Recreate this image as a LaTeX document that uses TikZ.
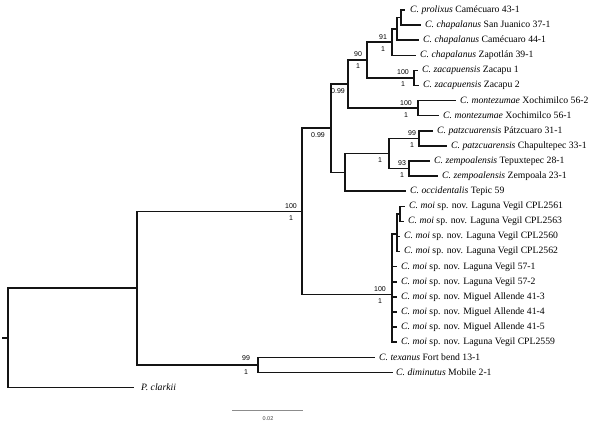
\documentclass[tikz,border=0pt]{standalone}
\usepackage{fontspec}
\setmainfont{Liberation Serif}
\newfontfamily\bsfont{Liberation Sans}
\begin{document}
\begin{tikzpicture}[x=1pt,y=-1pt,
  br/.style={line width=1.5pt, draw=black!92, line cap=rect},
  leaf/.style={anchor=west, inner sep=0pt, font=\fontsize{9.7}{11}\selectfont},
  bs/.style={inner sep=0pt, font=\bsfont\fontsize{7}{8}\selectfont},
  bar/.style={line width=1pt, draw=black!45}]
\useasboundingbox (0,0) rectangle (600,425);
% internal nodes
\coordinate (root0) at (3,337.8);
\coordinate (root) at (8,337.8);
\coordinate (j) at (137,288.1);
\coordinate (k) at (258,364.85);
\coordinate (i) at (302,211.3);
\coordinate (h) at (331,128.2);
\coordinate (e) at (348,84.1);
\coordinate (d) at (367,60.0);
\coordinate (c) at (392,42.1);
\coordinate (b) at (397,28.9);
\coordinate (a) at (401,17.55);
\coordinate (z) at (414,77.95);
\coordinate (m) at (418,108.15);
\coordinate (g) at (345,172.3);
\coordinate (f) at (389,153.45);
\coordinate (p) at (419,138.35);
\coordinate (q) at (409,168.55);
\coordinate (u) at (392,294.4);
\coordinate (t) at (397,234.0);
\coordinate (s) at (400,213.85);
% leaf ends
\coordinate (L1) at (404,10.0);
\coordinate (L2) at (420,25.1);
\coordinate (L3) at (418,40.2);
\coordinate (L4) at (415,55.3);
\coordinate (L5) at (417,70.4);
\coordinate (L6) at (418,85.5);
\coordinate (L7) at (455,100.6);
\coordinate (L8) at (438,115.7);
\coordinate (L9) at (432,130.8);
\coordinate (L10) at (446,145.9);
\coordinate (L11) at (429,161.0);
\coordinate (L12) at (437,176.1);
\coordinate (L13) at (405,191.2);
\coordinate (L14) at (404,206.3);
\coordinate (L15) at (403,221.4);
\coordinate (L16) at (399,236.5);
\coordinate (L17) at (399,251.6);
\coordinate (L18) at (396,266.7);
\coordinate (L19) at (396,281.8);
\coordinate (L20) at (396,296.9);
\coordinate (L21) at (396,312.0);
\coordinate (L22) at (396,327.1);
\coordinate (L23) at (396,342.2);
\coordinate (L24) at (374,357.3);
\coordinate (L25) at (392,372.4);
\coordinate (L26) at (133,387.5);
% branches
\draw[br] (root0) -- (root);
\draw[br] (root) |- (j);
\draw[br] (root) |- (L26);
\draw[br] (j) |- (i);
\draw[br] (j) |- (k);
\draw[br] (k) |- (L24);
\draw[br] (k) |- (L25);
\draw[br] (i) |- (h);
\draw[br] (i) |- (u);
\draw[br] (h) |- (e);
\draw[br] (h) |- (g);
\draw[br] (e) |- (d);
\draw[br] (e) |- (m);
\draw[br] (d) |- (c);
\draw[br] (d) |- (z);
\draw[br] (c) |- (b);
\draw[br] (c) |- (L4);
\draw[br] (b) |- (a);
\draw[br] (b) |- (L3);
\draw[br] (a) |- (L1);
\draw[br] (a) |- (L2);
\draw[br] (z) |- (L5);
\draw[br] (z) |- (L6);
\draw[br] (m) |- (L7);
\draw[br] (m) |- (L8);
\draw[br] (g) |- (f);
\draw[br] (g) |- (L13);
\draw[br] (f) |- (p);
\draw[br] (f) |- (q);
\draw[br] (p) |- (L9);
\draw[br] (p) |- (L10);
\draw[br] (q) |- (L11);
\draw[br] (q) |- (L12);
\draw[br] (u) |- (t);
\draw[br] (u) |- (L18);
\draw[br] (u) |- (L19);
\draw[br] (u) |- (L20);
\draw[br] (u) |- (L21);
\draw[br] (u) |- (L22);
\draw[br] (u) |- (L23);
\draw[br] (t) |- (s);
\draw[br] (t) |- (L16);
\draw[br] (t) |- (L17);
\draw[br] (s) |- (L14);
\draw[br] (s) |- (L15);
% leaf labels
\node[leaf, xshift=6pt] (n1) at (L1) {\textit{C. prolixus} Camécuaro 43-1};
\node[leaf, xshift=5pt] (n2) at (L2) {\textit{C. chapalanus} San Juanico 37-1};
\node[leaf, xshift=5pt] (n3) at (L3) {\textit{C. chapalanus} Camécuaro 44-1};
\node[leaf, xshift=5pt] (n4) at (L4) {\textit{C. chapalanus} Zapotlán 39-1};
\node[leaf, xshift=5pt] (n5) at (L5) {\textit{C. zacapuensis} Zacapu 1};
\node[leaf, xshift=5pt] (n6) at (L6) {\textit{C. zacapuensis} Zacapu 2};
\node[leaf, xshift=5pt] (n7) at (L7) {\textit{C. montezumae} Xochimilco 56-2};
\node[leaf, xshift=5pt] (n8) at (L8) {\textit{C. montezumae} Xochimilco 56-1};
\node[leaf, xshift=5pt] (n9) at (L9) {\textit{C. patzcuarensis} Pátzcuaro 31-1};
\node[leaf, xshift=5pt] (n10) at (L10) {\textit{C. patzcuarensis} Chapultepec 33-1};
\node[leaf, xshift=5pt] (n11) at (L11) {\textit{C. zempoalensis} Tepuxtepec 28-1};
\node[leaf, xshift=5pt] (n12) at (L12) {\textit{C. zempoalensis} Zempoala 23-1};
\node[leaf, xshift=5pt] (n13) at (L13) {\textit{C. occidentalis} Tepic 59};
\node[leaf, xshift=5pt] (n14) at (L14) {\textit{C. moi} sp. nov. Laguna Vegil CPL2561};
\node[leaf, xshift=5pt] (n15) at (L15) {\textit{C. moi} sp. nov. Laguna Vegil CPL2563};
\node[leaf, xshift=5pt] (n16) at (L16) {\textit{C. moi} sp. nov. Laguna Vegil CPL2560};
\node[leaf, xshift=5pt] (n17) at (L17) {\textit{C. moi} sp. nov. Laguna Vegil CPL2562};
\node[leaf, xshift=5pt] (n18) at (L18) {\textit{C. moi} sp. nov. Laguna Vegil 57-1};
\node[leaf, xshift=5pt] (n19) at (L19) {\textit{C. moi} sp. nov. Laguna Vegil 57-2};
\node[leaf, xshift=5pt] (n20) at (L20) {\textit{C. moi} sp. nov. Miguel Allende 41-3};
\node[leaf, xshift=5pt] (n21) at (L21) {\textit{C. moi} sp. nov. Miguel Allende 41-4};
\node[leaf, xshift=5pt] (n22) at (L22) {\textit{C. moi} sp. nov. Miguel Allende 41-5};
\node[leaf, xshift=5pt] (n23) at (L23) {\textit{C. moi} sp. nov. Laguna Vegil CPL2559};
\node[leaf, xshift=5pt] (n24) at (L24) {\textit{C. texanus} Fort bend 13-1};
\node[leaf, xshift=4pt] (n25) at (L25) {\textit{C. diminutus} Mobile 2-1};
\node[leaf, xshift=8pt] (n26) at (L26) {\textit{P. clarkii}};
% support values
\node[bs, xshift=-9pt, yshift=5.5pt] (sc1) at (c) {91};
\node[bs, xshift=-9pt, yshift=-6.5pt] (sc2) at (c) {1};
\node[bs, xshift=-9pt, yshift=5.5pt] (sd1) at (d) {90};
\node[bs, xshift=-9pt, yshift=-6.5pt] (sd2) at (d) {1};
\node[bs, xshift=-11pt, yshift=5.5pt] (sz1) at (z) {100};
\node[bs, xshift=-11pt, yshift=-6.5pt] (sz2) at (z) {1};
\node[bs, xshift=-12pt, yshift=5.5pt] (sm1) at (m) {100};
\node[bs, xshift=-12pt, yshift=-6.5pt] (sm2) at (m) {1};
\node[bs, xshift=-10pt, yshift=-6.5pt] (se2) at (e) {0.99};
\node[bs, xshift=-13pt, yshift=-6.5pt] (sh2) at (h) {0.99};
\node[bs, xshift=-9pt, yshift=-6.5pt] (sf2) at (f) {1};
\node[bs, xshift=-7pt, yshift=5.5pt] (sp1) at (p) {99};
\node[bs, xshift=-7pt, yshift=-6.5pt] (sp2) at (p) {1};
\node[bs, xshift=-7pt, yshift=5.5pt] (sq1) at (q) {93};
\node[bs, xshift=-7pt, yshift=-6.5pt] (sq2) at (q) {1};
\node[bs, xshift=-11pt, yshift=5.5pt] (si1) at (i) {100};
\node[bs, xshift=-11pt, yshift=-6.5pt] (si2) at (i) {1};
\node[bs, xshift=-12pt, yshift=5.5pt] (su1) at (u) {100};
\node[bs, xshift=-12pt, yshift=-6.5pt] (su2) at (u) {1};
\node[bs, xshift=-12pt, yshift=6.5pt] (sk1) at (k) {99};
\node[bs, xshift=-12pt, yshift=-7.5pt] (sk2) at (k) {1};
% scale bar
\coordinate (sbL) at (232,410);
\coordinate (sbR) at (303,410);
\draw[bar] (sbL) -- (sbR);
\node[inner sep=0pt, font=\bsfont\fontsize{5.5}{6}\selectfont, text=black!75] (sbt) at (268,418.5) {0.02};
\end{tikzpicture}
\end{document}
